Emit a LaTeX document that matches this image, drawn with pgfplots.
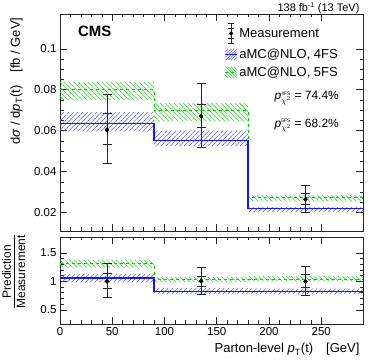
\documentclass[border=0pt]{standalone}
\usepackage{fontspec}
\setmainfont{Liberation Sans}
\usepackage{pgfplots}
\pgfplotsset{compat=1.18}
\usetikzlibrary{patterns.meta}

\definecolor{lineblue}{RGB}{20,20,255}
\definecolor{hatchblue}{RGB}{90,90,255}
\definecolor{linegreen}{RGB}{0,205,0}
\definecolor{hatchgreen}{RGB}{40,215,40}

\pgfplotsset{
  cmsaxis/.style={
    scale only axis, width=303pt,
    xmin=0, xmax=290,
    axis line style={black!85, line width=0.6pt},
    tick style={black!85, line width=0.5pt},
    major tick length=7pt, minor tick length=3.5pt,
    xtick={0,50,100,150,200,250}, minor x tick num=4,
    xtick pos=both, ytick pos=both, tick align=inside,
    tick label style={font=\fontsize{11.5}{12}\selectfont},
    /pgf/number format/assume math mode=true,
    /pgf/number format/fixed,
    clip=false,
  },
  band4/.style={draw=none, pattern={Lines[angle=45,distance=3.3pt,line width=0.55pt]}, pattern color=hatchblue, forget plot},
  band5/.style={draw=none, pattern={Lines[angle=-45,distance=3.3pt,line width=0.55pt]}, pattern color=hatchgreen, forget plot},
  meas/.style={only marks, mark=*, mark size=1.9pt, black, forget plot,
    error bars/.cd, y dir=both, y explicit,
    error bar style={black!85, line width=0.8pt},
    error mark options={rotate=90, mark size=4.5pt, line width=0.8pt, black!85}},
}

\begin{document}
\begin{tikzpicture}
\begin{axis}[cmsaxis, name=top,
  height=217pt,
  ymin=0.011, ymax=0.117,
  ytick={0.02,0.04,0.06,0.08,0.1},
  yticklabels={0.02,0.04,0.06,0.08,0.1},
  minor y tick num=3,
  xticklabels={},
  legend cell align=left,
  legend style={draw=none, fill=none, at={(rel axis cs:0.54,0.965)}, anchor=north west,
    font=\fontsize{13}{14}\selectfont, row sep=3pt, inner sep=1pt},
]
% 5FS band and line
\addplot[band5] coordinates {(0,0.0751) (90,0.0751) (90,0.0646) (180,0.0646) (180,0.0255) (290,0.0255)
  (290,0.0284) (180,0.0284) (180,0.0735) (90,0.0735) (90,0.0838) (0,0.0838)} -- cycle;
% 4FS band
\addplot[band4] coordinates {(0,0.0597) (90,0.0597) (90,0.0525) (180,0.0525) (180,0.0204) (290,0.0204)
  (290,0.0228) (180,0.0228) (180,0.0600) (90,0.0600) (90,0.0691) (0,0.0691)} -- cycle;
\addplot[const plot, linegreen, dashed, line width=0.8pt, forget plot] coordinates {(0,0.0800) (90,0.0699) (180,0.0274) (290,0.0274)};
\addplot[const plot, lineblue, line width=1.2pt, forget plot] coordinates {(0,0.0637) (90,0.0553) (180,0.0221) (290,0.0221)};
% measurement: total and inner bars
\addplot[meas] coordinates {
  (45,0.0605) += (0,0.0174) -= (0,0.0167)
  (135,0.0670) += (0,0.0159) -= (0,0.0151)
  (235,0.0265) += (0,0.0068) -= (0,0.0062)};
\addplot[meas] coordinates {
  (45,0.0605) += (0,0.0078) -= (0,0.0073)
  (135,0.0670) += (0,0.0060) -= (0,0.0054)
  (235,0.0265) += (0,0.0031) -= (0,0.0026)};
% legend
\addlegendimage{legend image code/.code={
  \draw[black!85, line width=0.8pt] (0.2cm,-0.36cm) -- (0.2cm,0.36cm);
  \draw[black!85, line width=0.8pt] (0.1cm,-0.36cm) -- (0.3cm,-0.36cm) (0.1cm,0.36cm) -- (0.3cm,0.36cm);
  \draw[black!85, line width=0.8pt] (0.1cm,-0.18cm) -- (0.3cm,-0.18cm) (0.1cm,0.18cm) -- (0.3cm,0.18cm);
  \fill[black] (0.2cm,0) circle (1.9pt);}}
\addlegendimage{legend image code/.code={
  \draw[hatchblue, line width=0.55pt]
    (0cm,0.1cm) -- (0.1cm,0.2cm) (0cm,0cm) -- (0.2cm,0.2cm) (0cm,-0.1cm) -- (0.3cm,0.2cm)
    (0cm,-0.2cm) -- (0.4cm,0.2cm) (0.1cm,-0.2cm) -- (0.4cm,0.1cm) (0.2cm,-0.2cm) -- (0.4cm,0cm)
    (0.3cm,-0.2cm) -- (0.4cm,-0.1cm);
  \draw[lineblue, line width=1.2pt] (0cm,0cm) -- (0.4cm,0cm);}}
\addlegendimage{legend image code/.code={
  \draw[hatchgreen, line width=0.55pt]
    (0.4cm,0.1cm) -- (0.3cm,0.2cm) (0.4cm,0cm) -- (0.2cm,0.2cm) (0.4cm,-0.1cm) -- (0.1cm,0.2cm)
    (0.4cm,-0.2cm) -- (0cm,0.2cm) (0.3cm,-0.2cm) -- (0cm,0.1cm) (0.2cm,-0.2cm) -- (0cm,0cm)
    (0.1cm,-0.2cm) -- (0cm,-0.1cm);
  \draw[linegreen, dashed, line width=0.8pt] (0cm,0cm) -- (0.4cm,0cm);}}
\legend{Measurement, {aMC@NLO, 4FS}, {aMC@NLO, 5FS}}
\node[anchor=west, font=\fontsize{15}{16}\selectfont\bfseries] at (axis cs:14,0.1085) {CMS};
\node[anchor=west, font=\fontsize{12}{13}\selectfont] at (axis cs:202,0.0760) {\textit{p}$^{\mbox{\tiny 4FS}}_{\chi^2}$ = 74.4\%};
\node[anchor=west, font=\fontsize{12}{13}\selectfont] at (axis cs:202,0.0625) {\textit{p}$^{\mbox{\tiny 5FS}}_{\chi^2}$ = 68.2\%};
\node[anchor=base east, font=\fontsize{11}{12}\selectfont] at (rel axis cs:1,1.012) {138 fb$^{\mbox{\scriptsize -1}}$ (13 TeV)};
\node[rotate=90, anchor=north east, font=\fontsize{13}{14}\selectfont] at (rel axis cs:-0.175,1) {d\textit{σ} / d\textit{p}\textsubscript{T}(t)\quad [fb / GeV]};
\end{axis}

\begin{axis}[cmsaxis, name=low,
  at={(top.south west)}, anchor=north west, yshift=-6pt,
  height=87pt,
  ymin=0.25, ymax=1.78,
  ytick={0.5,1,1.5}, yticklabels={0.5,1,1.5},
  minor y tick num=4,
  xticklabels={0,50,100,150,200,250},
]
\addplot[band5] coordinates {(0,1.24) (90,1.24) (90,0.99) (180,0.99) (180,1.00) (290,1.00)
  (290,1.09) (180,1.09) (180,1.08) (90,1.08) (90,1.38) (0,1.38)} -- cycle;
\addplot[band4] coordinates {(0,0.98) (90,0.98) (90,0.78) (180,0.78) (180,0.78) (290,0.78)
  (290,0.87) (180,0.87) (180,0.88) (90,0.88) (90,1.13) (0,1.13)} -- cycle;
\addplot[const plot, linegreen, dashed, line width=0.8pt, forget plot] coordinates {(0,1.31) (90,1.03) (180,1.04) (290,1.04)};
\addplot[const plot, lineblue, line width=1.2pt, forget plot] coordinates {(0,1.06) (90,0.82) (180,0.82) (290,0.82)};
\addplot[meas] coordinates {
  (45,1) += (0,0.31) -= (0,0.28)
  (135,1) += (0,0.25) -= (0,0.23)
  (235,1) += (0,0.26) -= (0,0.25)};
\addplot[meas] coordinates {
  (45,1) += (0,0.135) -= (0,0.12)
  (135,1) += (0,0.09) -= (0,0.09)
  (235,1) += (0,0.12) -= (0,0.11)};
\node[rotate=90, anchor=north, inner sep=0pt, font=\fontsize{12}{13}\selectfont] at (rel axis cs:-0.193,0.6)
  {\begin{tabular}{@{}c@{}}Prediction\\[-1pt]\hline\rule{0pt}{11pt}Measurement\end{tabular}};
\node[anchor=base east, font=\fontsize{13}{14}\selectfont] at ([yshift=-29pt]rel axis cs:1,0) {Parton-level \textit{p}\textsubscript{T}(t)\quad [GeV]};
\end{axis}
\pgfresetboundingbox
\path ([shift={(-60pt,14pt)}]top.north west) rectangle ([shift={(314pt,-349pt)}]top.north west);
\end{tikzpicture}
\end{document}
